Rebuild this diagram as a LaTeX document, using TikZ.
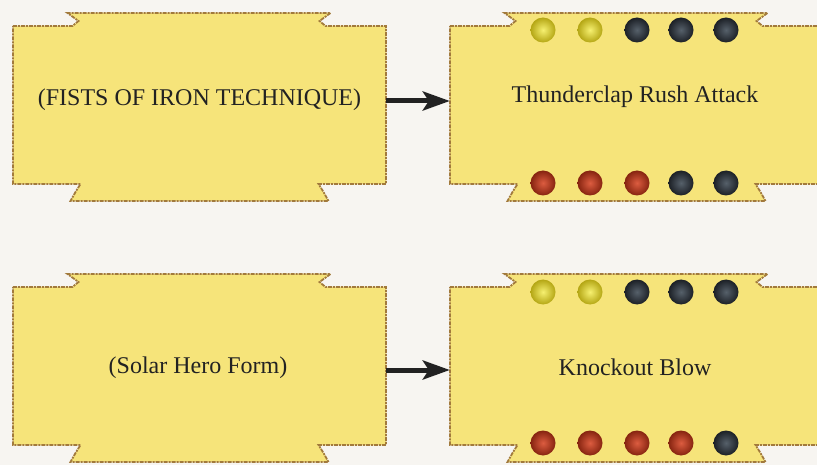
\documentclass[tikz,border=0pt]{standalone}
\usepackage{fontspec}
\setmainfont{Liberation Serif}
\usetikzlibrary{arrows.meta}
\definecolor{bgc}{HTML}{F7F5F1}
\definecolor{cardfill}{HTML}{F6E47A}
\definecolor{cardedge}{HTML}{A27A3C}
\definecolor{ink}{HTML}{222222}
\definecolor{gemYi}{HTML}{F6F070}
\definecolor{gemYo}{HTML}{B4A614}
\definecolor{gemDi}{HTML}{56606A}
\definecolor{gemDo}{HTML}{1C2026}
\definecolor{gemRi}{HTML}{DC5C40}
\definecolor{gemRo}{HTML}{862410}
\tikzset{
  cardline/.style={fill=cardfill, draw=cardedge, line width=1.8pt, dash pattern=on 4pt off 1pt on 2pt off 1pt},
  cardbox/.style={rectangle, minimum width=373pt, minimum height=158pt, inner sep=0pt},
  label/.style={font=\fontsize{24}{28}\selectfont, text=ink},
  gem/.style={circle, minimum size=25pt, inner sep=0pt, shading=radial},
  gemY/.style={gem, inner color=gemYi, outer color=gemYo},
  gemD/.style={gem, inner color=gemDi, outer color=gemDo},
  gemR/.style={gem, inner color=gemRi, outer color=gemRo},
  link/.style={ink, line width=5pt, -{Stealth[length=27pt,width=19pt,inset=6pt]}}
}
\newcommand\cardoutline[2]{%
  \path[cardline] (#1-186.5,#2-79) -- (#1-127,#2-79) -- (#1-121,#2-84) -- (#1-132,#2-92)
   -- (#1+131,#2-92) -- (#1+120,#2-84) -- (#1+126,#2-79) -- (#1+186.5,#2-79)
   -- (#1+186.5,#2+79) -- (#1+119,#2+79) -- (#1+124,#2+87) -- (#1+129,#2+96)
   -- (#1-129,#2+96) -- (#1-124,#2+87) -- (#1-119,#2+79) -- (#1-186.5,#2+79) -- cycle;}
\begin{document}
\begin{tikzpicture}[x=1pt,y=-1pt]
\fill[bgc] (0,0) rectangle (817,465);
\useasboundingbox (0,0) rectangle (817,465);
% cards
\cardoutline{199.5}{105}
\cardoutline{636.5}{105}
\cardoutline{199.5}{366}
\cardoutline{636.5}{366}
\node[cardbox] (c1) at (199.5,105) {};
\node[cardbox] (c2) at (636.5,105) {};
\node[cardbox] (c3) at (199.5,366) {};
\node[cardbox] (c4) at (636.5,366) {};
% labels
\node[label] (t1) at (199.5,100) {(FISTS OF IRON TECHNIQUE)};
\node[label] (t2) at (635,97) {Thunderclap Rush Attack};
\node[label] (t3) at (198,368) {(Solar Hero Form)};
\node[label] (t4) at (635,367) {Knockout Blow};
% arrows
\draw[link] (c1.east |- 0,101) -- (c2.west |- 0,101);
\draw[link] (c3.east |- 0,370) -- (c4.west |- 0,370);
% gems, card 2
\node[gemY] (g1) at (543,30) {};
\node[gemY] (g2) at (590,30) {};
\node[gemD] (g3) at (637,30) {};
\node[gemD] (g4) at (681,30) {};
\node[gemD] (g5) at (726,30) {};
\node[gemR] (g6) at (543,183) {};
\node[gemR] (g7) at (590,183) {};
\node[gemR] (g8) at (637,183) {};
\node[gemD] (g9) at (681,183) {};
\node[gemD] (g10) at (726,183) {};
% gems, card 4
\node[gemY] (h1) at (543,292) {};
\node[gemY] (h2) at (590,292) {};
\node[gemD] (h3) at (637,292) {};
\node[gemD] (h4) at (681,292) {};
\node[gemD] (h5) at (726,292) {};
\node[gemR] (h6) at (543,443) {};
\node[gemR] (h7) at (590,443) {};
\node[gemR] (h8) at (637,443) {};
\node[gemR] (h9) at (681,443) {};
\node[gemD] (h10) at (726,443) {};
\end{tikzpicture}
\end{document}
